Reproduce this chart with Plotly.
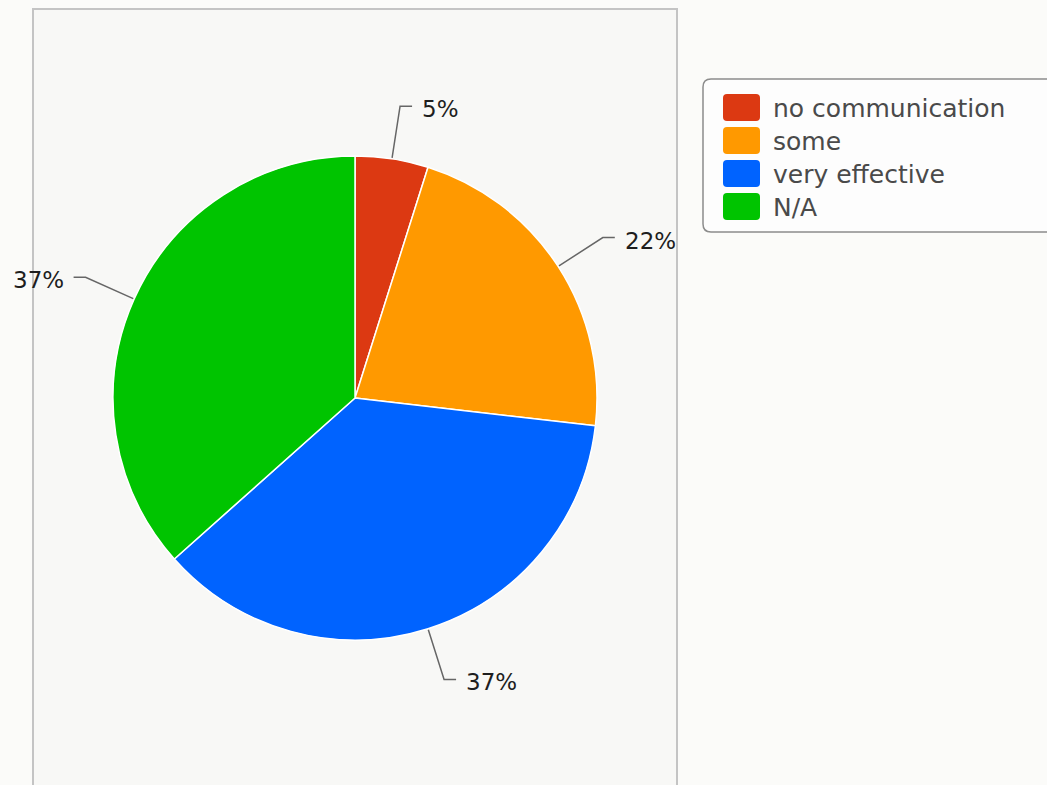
import math
import plotly.graph_objects as go

# ---- data ----
labels = ["no communication", "some", "very effective", "N/A"]
values = [2, 9, 15, 15]
colors = ["#dc3912", "#ff9900", "#0063ff", "#00c400"]

W, H = 1047, 785
CX, CY, R = 355, 398, 242

total = sum(values)
pct_text = [f"{round(v / total * 100)}%" for v in values]

fig = go.Figure()

# pixel-space helper axes
fig.add_trace(go.Scatter(x=[], y=[], showlegend=False, hoverinfo="skip"))

fig.add_trace(go.Pie(
    labels=labels, values=values, sort=False, direction="clockwise", rotation=0,
    marker=dict(colors=colors, line=dict(color="white", width=1.5)),
    textinfo="none", hoverinfo="label+percent", showlegend=False,
    domain=dict(x=[(CX - R) / W, (CX + R) / W], y=[(H - CY - R) / H, (H - CY + R) / H]),
))

shapes = []
annotations = []

# panel
shapes.append(dict(type="rect", xref="x", yref="y", x0=33, x1=677, y0=9, y1=800,
                   fillcolor="#f8f8f6", line=dict(color="#c4c4c4", width=2), layer="below"))

# leader lines and percentage labels
cum = 0
for v, t in zip(values, pct_text):
    mid = (cum + v / 2) / total * 2 * math.pi
    cum += v
    sx, sy = math.sin(mid), -math.cos(mid)
    x0, y0 = CX + sx * (R + 1), CY + sy * (R + 1)
    x1, y1 = CX + sx * R * 1.22, CY + sy * R * 1.22
    side = 1 if sx >= 0 else -1
    x2 = x1 + side * 12
    shapes.append(dict(type="path", xref="x", yref="y",
                       path=f"M{x0},{y0} L{x1},{y1} L{x2},{y1}",
                       line=dict(color="#666666", width=1.5)))
    annotations.append(dict(xref="x", yref="y", x=x2 + side * 8, y=y1 + 3, text=t,
                            showarrow=False, xanchor="left" if side > 0 else "right",
                            yanchor="middle",
                            font=dict(family="DejaVu Sans", size=23, color="#1e1e1e")))

# legend box with rounded corners
lx0, lx1, ly0, ly1, rr = 703, 1065, 79, 232, 8
shapes.append(dict(type="path", xref="x", yref="y",
                   path=(f"M{lx0+rr},{ly0} L{lx1},{ly0} L{lx1},{ly1} L{lx0+rr},{ly1} "
                         f"Q{lx0},{ly1} {lx0},{ly1-rr} L{lx0},{ly0+rr} Q{lx0},{ly0} {lx0+rr},{ly0} Z"),
                   fillcolor="#fdfdfd", line=dict(color="#8c8c8c", width=1.5), layer="below"))

for i, (lab, col) in enumerate(zip(labels, colors)):
    yc = 107.5 + i * 33
    sx0, sx1, sy0, sy1, r2 = 723, 760, yc - 13.5, yc + 13.5, 4
    shapes.append(dict(type="path", xref="x", yref="y",
                       path=(f"M{sx0+r2},{sy0} L{sx1-r2},{sy0} Q{sx1},{sy0} {sx1},{sy0+r2} "
                             f"L{sx1},{sy1-r2} Q{sx1},{sy1} {sx1-r2},{sy1} L{sx0+r2},{sy1} "
                             f"Q{sx0},{sy1} {sx0},{sy1-r2} L{sx0},{sy0+r2} Q{sx0},{sy0} {sx0+r2},{sy0} Z"),
                       fillcolor=col, line=dict(width=0)))
    annotations.append(dict(xref="x", yref="y", x=771, y=yc + 1, text=lab, showarrow=False,
                            xanchor="left", yanchor="middle",
                            font=dict(family="DejaVu Sans", size=25, color="#4a4a4a")))

fig.update_layout(
    width=W, height=H, margin=dict(l=0, r=0, t=0, b=0),
    paper_bgcolor="#fbfbf9", plot_bgcolor="rgba(0,0,0,0)",
    xaxis=dict(range=[0, W], domain=[0, 1], visible=False, fixedrange=True),
    yaxis=dict(range=[H, 0], domain=[0, 1], visible=False, fixedrange=True),
    shapes=shapes, annotations=annotations, showlegend=False,
)

fig.write_html("out.html", config={"displayModeBar": False},
               post_script="document.body.style.margin='0';document.body.style.overflow='hidden';")
